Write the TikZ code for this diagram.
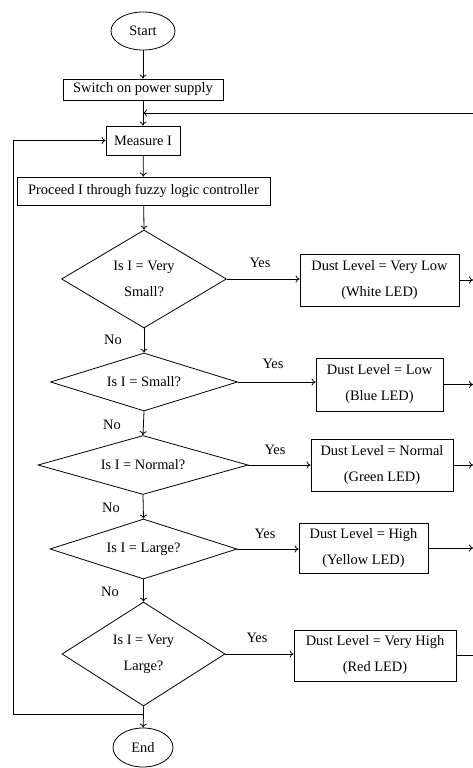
\documentclass[tikz,border=0pt]{standalone}
\usepackage{fontspec}
\setmainfont{Liberation Serif}
\usetikzlibrary{shapes.geometric,arrows.meta}
\tikzset{
  base/.style={font=\fontsize{14.4}{26}\selectfont, inner sep=0pt, align=center},
  procbox/.style={base, draw, rectangle},
  termnode/.style={base, draw, ellipse},
  decnode/.style={base, draw, diamond},
  lbl/.style={font=\fontsize{14.4}{17}\selectfont, inner sep=0pt},
  flow/.style={-{To[length=4pt,width=7pt]}},
  plain/.style={}
}
\begin{document}
\begin{tikzpicture}[x=1pt,y=-1pt,line width=0.8pt]
\useasboundingbox (0,0) rectangle (473,768);
% nodes
\node[termnode, minimum width=64pt, minimum height=38pt] (start) at (143,31) {Start};
\node[procbox, minimum width=160pt, minimum height=21pt] (power) at (143,89.5) {Switch on power supply};
\node[procbox, minimum width=74pt, minimum height=29pt] (measure) at (143,140.5) {Measure I};
\node[procbox, minimum width=253pt, minimum height=28pt] (proceed) at (143.5,191) {Proceed I through fuzzy logic controller};
\node[decnode, shape aspect=1.7, minimum width=165pt, minimum height=98pt] (d1) at (144,279) {Is I = Very\\Small?};
\node[procbox, minimum width=159pt, minimum height=52pt] (o1) at (379.5,280) {Dust Level = Very Low\\(White LED)};
\node[decnode, shape aspect=3.2, minimum width=187pt, minimum height=58pt] (d2) at (144,382) {Is I = Small?};
\node[procbox, minimum width=127pt, minimum height=53pt] (o2) at (379.5,384.5) {Dust Level = Low\\(Blue LED)};
\node[decnode, shape aspect=3.5, minimum width=210pt, minimum height=59pt] (d3) at (143,465) {Is I = Normal?};
\node[procbox, minimum width=142pt, minimum height=52pt] (o3) at (382,465) {Dust Level = Normal\\(Green LED)};
\node[decnode, shape aspect=3.1, minimum width=187pt, minimum height=60pt] (d4) at (143.5,549) {Is I = Large?};
\node[procbox, minimum width=129pt, minimum height=50pt] (o4) at (363.5,548) {Dust Level = High\\(Yellow LED)};
\node[decnode, shape aspect=1.6, minimum width=163pt, minimum height=104pt] (d5) at (143.5,654) {Is I = Very\\Large?};
\node[procbox, minimum width=162pt, minimum height=51pt] (o5) at (375,655.5) {Dust Level = Very High\\(Red LED)};
\node[termnode, minimum width=60pt, minimum height=39pt] (end) at (143,747.5) {End};
% labels
\node[lbl] (y1) at (260,263) {Yes};
\node[lbl] (y2) at (273,364) {Yes};
\node[lbl] (y3) at (275,450) {Yes};
\node[lbl] (y4) at (265,534) {Yes};
\node[lbl] (y5) at (257,638) {Yes};
\node[lbl] (n1) at (113,340) {No};
\node[lbl] (n2) at (112,425) {No};
\node[lbl] (n3) at (111,508) {No};
\node[lbl] (n4) at (110,592) {No};
% helper coordinates
\coordinate (rail) at (473,113);
\coordinate (lp) at (13,714);
% main flow
\draw[flow] (start) -- (power);
\draw[flow] (power) -- (measure);
\draw[flow] (measure) -- (proceed);
\draw[flow] (proceed) -- (d1.north);
\draw[flow] (d1.south) -- (d2.north);
\draw[flow] (d2.south) -- (d3.north);
\draw[flow] (d3.south) -- (d4.north);
\draw[flow] (d4.south) -- (d5.north);
\draw[flow] (d5.south) -- (end);
% yes branches
\draw[flow] (d1.east) -- (d1.east -| o1.west);
\draw[flow] (d2.east) -- (d2.east -| o2.west);
\draw[flow] (d3.east) -- (d3.east -| o3.west);
\draw[flow] (d4.east) -- (d4.east -| o4.west);
\draw[flow] (d5.east) -- (d5.east -| o5.west);
% outputs to right rail
\draw[flow] (o1.east) -- (o1.east -| rail);
\draw[flow] (o2.east) -- (o2.east -| rail);
\draw[flow] (o3.east) -- (o3.east -| rail);
\draw[flow] (o4.east) -- (o4.east -| rail);
\draw (o5.east) -- (o5.east -| rail);
% return from right rail
\draw[flow] (rail) -- (rail -| measure.north);
% left loop
\draw[flow] (lp -| d5.south) -- (lp) |- (measure.west);
\end{tikzpicture}
\end{document}
